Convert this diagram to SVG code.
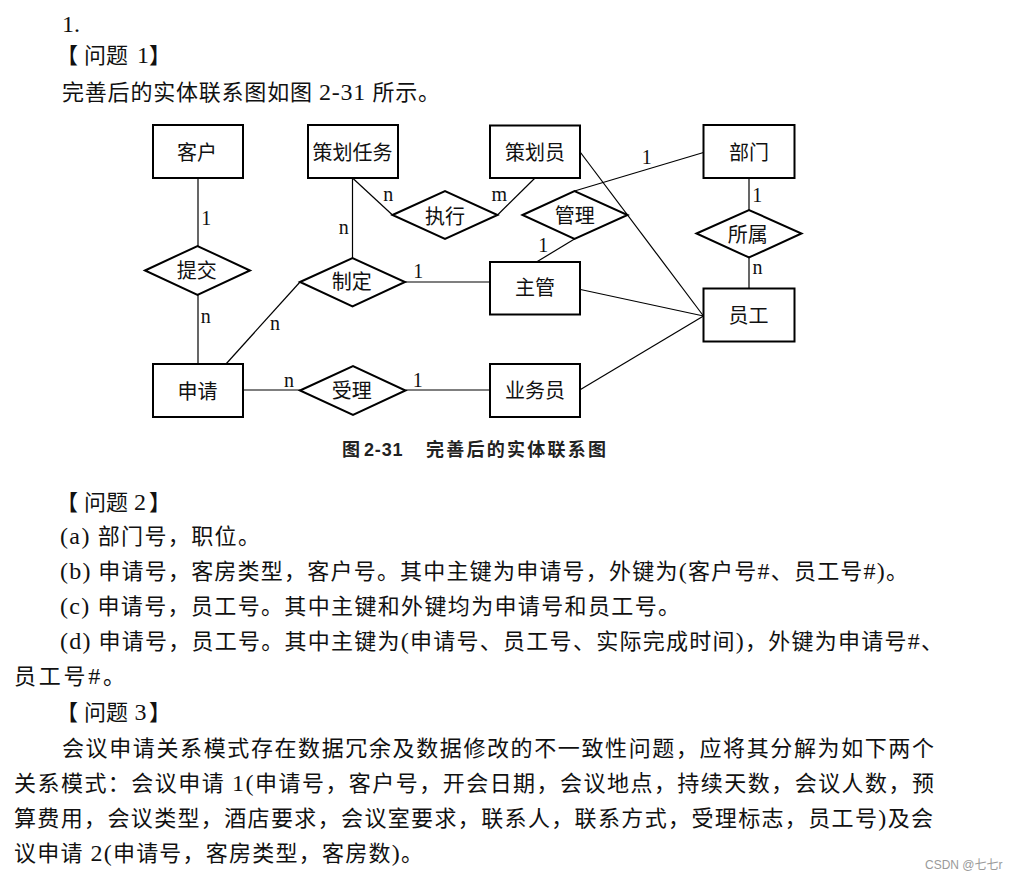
<svg xmlns="http://www.w3.org/2000/svg" width="1018" height="881" viewBox="0 0 1018 881">
<style>
.body{font-family:"Liberation Serif","Noto Sans CJK SC",serif;font-size:22px;fill:#111}
.lat{font-family:"Liberation Serif",serif;font-size:24px}
.ent rect{fill:#fff;stroke:#000;stroke-width:2}
.rel polygon{fill:#fff;stroke:#000;stroke-width:2}
.lbl{font-family:"Liberation Serif","Noto Sans CJK SC",serif;font-size:20px;fill:#111;text-anchor:middle}
.card{font-family:"Liberation Serif",serif;font-size:20px;fill:#111;text-anchor:middle}
#connectors line{stroke:#000;stroke-width:1.2}
.cap{font-family:"Liberation Sans","Noto Sans CJK SC",sans-serif;font-size:18px;font-weight:600;fill:#222}
.wm{font-family:"Liberation Sans","Noto Sans CJK SC",sans-serif;font-size:12px;fill:#9a9a9a}
</style>
<rect width="1018" height="881" fill="#fff"/>

<!-- body text -->
<text class="body lat" x="62" y="31.5">1.</text>
<text class="body" x="56 84 106 128 137 149" y="63">【问题 <tspan class="lat">1</tspan>】</text>
<text class="body" x="62" y="100" textLength="378" lengthAdjust="spacing">完善后的实体联系图如图 <tspan class="lat">2-31</tspan> 所示。</text>

<g id="connectors">
  <line x1="198" y1="178" x2="198" y2="246"/>
  <line x1="198" y1="295" x2="198" y2="364"/>
  <line x1="226" y1="364" x2="300" y2="282"/>
  <line x1="352.5" y1="178" x2="352.5" y2="258"/>
  <line x1="352.5" y1="178" x2="392.5" y2="215"/>
  <line x1="497.5" y1="215" x2="535" y2="178"/>
  <line x1="405" y1="282" x2="490" y2="282"/>
  <line x1="574.5" y1="239" x2="536.5" y2="262"/>
  <line x1="703.5" y1="152.5" x2="574.5" y2="191"/>
  <line x1="580.5" y1="152.5" x2="703.5" y2="316"/>
  <line x1="580.5" y1="289.5" x2="703.5" y2="316"/>
  <line x1="580.5" y1="389.5" x2="703.5" y2="316"/>
  <line x1="749" y1="178" x2="749" y2="210"/>
  <line x1="749" y1="258" x2="749" y2="288"/>
  <line x1="243" y1="390" x2="300" y2="390"/>
  <line x1="405.5" y1="390" x2="490" y2="390"/>
</g>

<g id="cardinalities">
  <text class="card" x="206.3" y="225">1</text>
  <text class="card" x="343.8" y="234">n</text>
  <text class="card" x="388.3" y="201">n</text>
  <text class="card" x="499.2" y="201">m</text>
  <text class="card" x="418.3" y="278">1</text>
  <text class="card" x="543.3" y="251.5">1</text>
  <text class="card" x="646.7" y="164">1</text>
  <text class="card" x="757.3" y="201.5">1</text>
  <text class="card" x="757.5" y="274">n</text>
  <text class="card" x="205.8" y="323">n</text>
  <text class="card" x="275" y="330">n</text>
  <text class="card" x="289" y="387">n</text>
  <text class="card" x="417.8" y="387">1</text>
</g>

<!-- entities -->
<g id="kehu" class="ent"><rect x="153" y="125" width="90" height="53"/><text class="lbl" x="197" y="160">客户</text></g>
<g id="cehuarenwu" class="ent"><rect x="308" y="125" width="90" height="53"/><text class="lbl" x="352.5" y="159.5">策划任务</text></g>
<g id="cehuayuan" class="ent"><rect x="490" y="125.5" width="90" height="52.5"/><text class="lbl" x="535" y="159.5">策划员</text></g>
<g id="bumen" class="ent"><rect x="703.5" y="125" width="91" height="53"/><text class="lbl" x="749" y="159.5">部门</text></g>
<g id="zhuguan" class="ent"><rect x="490" y="262" width="90" height="52.5"/><text class="lbl" x="535" y="295.3">主管</text></g>
<g id="yuangong" class="ent"><rect x="703.5" y="288.5" width="91" height="53"/><text class="lbl" x="748.5" y="322.6">员工</text></g>
<g id="shenqing" class="ent"><rect x="153" y="364" width="90" height="53"/><text class="lbl" x="197.5" y="398.5">申请</text></g>
<g id="yewuyuan" class="ent"><rect x="490" y="364" width="90" height="53"/><text class="lbl" x="535" y="398.3">业务员</text></g>

<!-- relationships -->
<g id="tijiao" class="rel"><polygon points="145,270.5 197.5,246 250,270.5 197.5,295"/><text class="lbl" x="196.7" y="277.6">提交</text></g>
<g id="zhixing" class="rel"><polygon points="392.5,215 445,191 497.5,215 445,239"/><text class="lbl" x="445" y="224">执行</text></g>
<g id="guanli" class="rel"><polygon points="522.5,215 574.5,191 627.5,215 574.5,239"/><text class="lbl" x="574.7" y="222.6">管理</text></g>
<g id="zhiding" class="rel"><polygon points="300,282 352.5,258 405,282 352.5,306.5"/><text class="lbl" x="351.7" y="289.3">制定</text></g>
<g id="shouli" class="rel"><polygon points="300,390.5 353,366 405.5,390.5 353,415"/><text class="lbl" x="351.7" y="398.4">受理</text></g>
<g id="suoshu" class="rel"><polygon points="696.5,233.5 749,210 801.5,233.5 749,257.5"/><text class="lbl" x="747.8" y="241.6">所属</text></g>

<!-- caption -->
<text class="cap" x="342" y="456" font-size="17">图</text>
<text class="cap" x="364" y="456" textLength="38.5" lengthAdjust="spacing">2-31</text>
<text class="cap" x="426" y="456" textLength="180" lengthAdjust="spacing">完善后的实体联系图</text>

<text class="body" x="56 84 106 128 134 149" y="510">【问题 <tspan class="lat">2</tspan>】</text>
<text class="body" x="60" y="544" textLength="200" lengthAdjust="spacing"><tspan class="lat">(a)</tspan> 部门号，职位。</text>
<text class="body" x="60" y="579" textLength="848" lengthAdjust="spacing"><tspan class="lat">(b)</tspan> 申请号，客房类型，客户号。其中主键为申请号，外键为<tspan class="lat">(</tspan>客户号<tspan class="lat">#</tspan>、员工号<tspan class="lat">#)</tspan>。</text>
<text class="body" x="60" y="614" textLength="620" lengthAdjust="spacing"><tspan class="lat">(c)</tspan> 申请号，员工号。其中主键和外键均为申请号和员工号。</text>
<text class="body" x="60" y="649" textLength="883" lengthAdjust="spacing"><tspan class="lat">(d)</tspan> 申请号，员工号。其中主键为<tspan class="lat">(</tspan>申请号、员工号、实际完成时间<tspan class="lat">)</tspan>，外键为申请号<tspan class="lat">#</tspan>、</text>
<text class="body" x="14" y="684" textLength="111" lengthAdjust="spacing">员工号<tspan class="lat">#</tspan>。</text>
<text class="body" x="56 84 106 128 134.5 149" y="720">【问题 <tspan class="lat">3</tspan>】</text>
<text class="body" x="62" y="756" textLength="872" lengthAdjust="spacing">会议申请关系模式存在数据冗余及数据修改的不一致性问题，应将其分解为如下两个</text>
<text class="body" x="14" y="791" textLength="920" lengthAdjust="spacing">关系模式：会议申请 <tspan class="lat">1(</tspan>申请号，客户号，开会日期，会议地点，持续天数，会议人数，预</text>
<text class="body" x="14" y="826" textLength="919" lengthAdjust="spacing">算费用，会议类型，酒店要求，会议室要求，联系人，联系方式，受理标志，员工号<tspan class="lat">)</tspan>及会</text>
<text class="body" x="14" y="861" textLength="409" lengthAdjust="spacing">议申请 <tspan class="lat">2(</tspan>申请号，客房类型，客房数<tspan class="lat">)</tspan>。</text>

<text class="wm" x="925" y="869">CSDN @七七r</text>
</svg>
